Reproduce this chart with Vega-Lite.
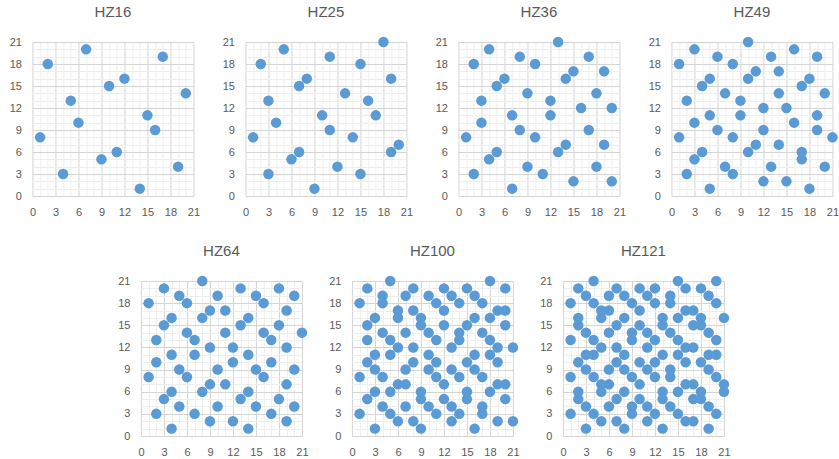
{
  "$schema": "https://vega.github.io/schema/vega-lite/v6.json",
  "background": "white",
  "padding": {"left": 9, "top": 5, "right": 5, "bottom": 0},
  "config": {
    "view": {"stroke": null},
    "font": "Liberation Sans",
    "title": {"fontSize": 15, "fontWeight": "normal", "color": "#595959", "offset": 16, "font": "Liberation Sans"},
    "axis": {
      "domain": false, "ticks": false, "labelColor": "#595959", "labelFontSize": 11,
      "labelFont": "Liberation Sans", "labelFlush": false, "labelOverlap": false,
      "gridColor": {"condition": {"test": "datum.value % 3 === 0", "value": "#d4d4d4"}, "value": "#eeeeee"},
      "gridWidth": 1,
      "labelExpr": "datum.value % 3 === 0 ? datum.label : ''"
    },
    "axisX": {"labelPadding": 10},
    "axisY": {"labelPadding": 11},
    "circle": {"size": 110, "color": "#5B9BD5", "opacity": 1}
  },
  "datasets": {
    "HZ16": [{"x":7,"y":20},{"x":2,"y":18},{"x":17,"y":19},{"x":12,"y":16},{"x":10,"y":15},{"x":20,"y":14},{"x":5,"y":13},{"x":15,"y":11},{"x":6,"y":10},{"x":16,"y":9},{"x":1,"y":8},{"x":11,"y":6},{"x":9,"y":5},{"x":19,"y":4},{"x":4,"y":3},{"x":14,"y":1}],
    "HZ25": [{"x":5,"y":20},{"x":2,"y":18},{"x":18,"y":21},{"x":11,"y":19},{"x":15,"y":18},{"x":8,"y":16},{"x":19,"y":16},{"x":7,"y":15},{"x":13,"y":14},{"x":3,"y":13},{"x":16,"y":13},{"x":10,"y":11},{"x":17,"y":11},{"x":4,"y":10},{"x":11,"y":9},{"x":1,"y":8},{"x":14,"y":8},{"x":20,"y":7},{"x":7,"y":6},{"x":19,"y":6},{"x":6,"y":5},{"x":12,"y":4},{"x":3,"y":3},{"x":15,"y":3},{"x":9,"y":1}],
    "HZ36": [{"x":13,"y":21},{"x":4,"y":20},{"x":8,"y":19},{"x":17,"y":19},{"x":2,"y":18},{"x":10,"y":18},{"x":15,"y":17},{"x":19,"y":17},{"x":6,"y":16},{"x":14,"y":16},{"x":5,"y":15},{"x":9,"y":14},{"x":18,"y":14},{"x":3,"y":13},{"x":12,"y":13},{"x":16,"y":12},{"x":20,"y":12},{"x":7,"y":11},{"x":12,"y":11},{"x":3,"y":10},{"x":8,"y":9},{"x":17,"y":9},{"x":1,"y":8},{"x":10,"y":8},{"x":14,"y":7},{"x":19,"y":7},{"x":5,"y":6},{"x":13,"y":6},{"x":4,"y":5},{"x":9,"y":4},{"x":18,"y":4},{"x":2,"y":3},{"x":11,"y":3},{"x":15,"y":2},{"x":20,"y":2},{"x":7,"y":1}],
    "HZ49": [{"x":10,"y":21},{"x":3,"y":20},{"x":16,"y":20},{"x":6,"y":19},{"x":13,"y":19},{"x":19,"y":19},{"x":1,"y":18},{"x":8,"y":18},{"x":11,"y":17},{"x":14,"y":17},{"x":5,"y":16},{"x":10,"y":16},{"x":18,"y":16},{"x":4,"y":15},{"x":17,"y":15},{"x":7,"y":14},{"x":14,"y":14},{"x":20,"y":14},{"x":9,"y":13},{"x":2,"y":13},{"x":12,"y":12},{"x":15,"y":12},{"x":5,"y":11},{"x":9,"y":11},{"x":19,"y":11},{"x":3,"y":10},{"x":16,"y":10},{"x":6,"y":9},{"x":12,"y":9},{"x":19,"y":9},{"x":1,"y":8},{"x":8,"y":8},{"x":21,"y":8},{"x":11,"y":7},{"x":14,"y":7},{"x":4,"y":6},{"x":10,"y":6},{"x":17,"y":6},{"x":3,"y":5},{"x":17,"y":5},{"x":7,"y":4},{"x":13,"y":4},{"x":20,"y":4},{"x":2,"y":3},{"x":8,"y":3},{"x":12,"y":2},{"x":15,"y":2},{"x":5,"y":1},{"x":18,"y":1}],
    "HZ64": [{"x":8,"y":21},{"x":3,"y":20},{"x":13,"y":20},{"x":18,"y":20},{"x":5,"y":19},{"x":10,"y":19},{"x":15,"y":19},{"x":20,"y":19},{"x":1,"y":18},{"x":6,"y":18},{"x":16,"y":18},{"x":9,"y":17},{"x":11,"y":17},{"x":19,"y":17},{"x":4,"y":16},{"x":8,"y":16},{"x":14,"y":16},{"x":3,"y":15},{"x":13,"y":15},{"x":18,"y":15},{"x":6,"y":14},{"x":11,"y":14},{"x":16,"y":14},{"x":21,"y":14},{"x":2,"y":13},{"x":7,"y":13},{"x":17,"y":13},{"x":9,"y":12},{"x":12,"y":12},{"x":19,"y":12},{"x":4,"y":11},{"x":7,"y":11},{"x":14,"y":11},{"x":2,"y":10},{"x":12,"y":10},{"x":17,"y":10},{"x":5,"y":9},{"x":10,"y":9},{"x":15,"y":9},{"x":20,"y":9},{"x":1,"y":8},{"x":6,"y":8},{"x":16,"y":8},{"x":9,"y":7},{"x":11,"y":7},{"x":19,"y":7},{"x":4,"y":6},{"x":8,"y":6},{"x":14,"y":6},{"x":3,"y":5},{"x":13,"y":5},{"x":18,"y":5},{"x":5,"y":4},{"x":10,"y":4},{"x":15,"y":4},{"x":20,"y":4},{"x":2,"y":3},{"x":7,"y":3},{"x":17,"y":3},{"x":9,"y":2},{"x":12,"y":2},{"x":19,"y":2},{"x":4,"y":1},{"x":14,"y":1}],
    "HZ100": [{"x":5,"y":21},{"x":18,"y":21},
      {"x":2,"y":20},{"x":8,"y":20},{"x":12,"y":20},{"x":15,"y":20},{"x":20,"y":20},
      {"x":4,"y":19},{"x":7,"y":19},{"x":10,"y":19},{"x":13,"y":19},{"x":16,"y":19},
      {"x":1,"y":18},{"x":4,"y":18},{"x":11,"y":18},{"x":14,"y":18},{"x":17,"y":18},
      {"x":6,"y":17},{"x":8,"y":17},{"x":12,"y":17},{"x":19,"y":17},{"x":20,"y":17},
      {"x":3,"y":16},{"x":6,"y":16},{"x":9,"y":16},{"x":16,"y":16},{"x":18,"y":16},
      {"x":2,"y":15},{"x":9,"y":15},{"x":12,"y":15},{"x":15,"y":15},{"x":20,"y":15},
      {"x":4,"y":14},{"x":7,"y":14},{"x":10,"y":14},{"x":14,"y":14},{"x":17,"y":14},
      {"x":2,"y":13},{"x":5,"y":13},{"x":11,"y":13},{"x":14,"y":13},{"x":18,"y":13},
      {"x":6,"y":12},{"x":8,"y":12},{"x":13,"y":12},{"x":19,"y":12},{"x":21,"y":12},
      {"x":3,"y":11},{"x":5,"y":11},{"x":10,"y":11},{"x":16,"y":11},{"x":18,"y":11},
      {"x":2,"y":10},{"x":8,"y":10},{"x":11,"y":10},{"x":15,"y":10},{"x":19,"y":10},
      {"x":3,"y":9},{"x":7,"y":9},{"x":10,"y":9},{"x":13,"y":9},{"x":16,"y":9},
      {"x":1,"y":8},{"x":4,"y":8},{"x":11,"y":8},{"x":14,"y":8},{"x":17,"y":8},
      {"x":6,"y":7},{"x":7,"y":7},{"x":12,"y":7},{"x":19,"y":7},{"x":20,"y":7},
      {"x":3,"y":6},{"x":5,"y":6},{"x":9,"y":6},{"x":15,"y":6},{"x":18,"y":6},
      {"x":2,"y":5},{"x":9,"y":5},{"x":12,"y":5},{"x":15,"y":5},{"x":20,"y":5},
      {"x":4,"y":4},{"x":7,"y":4},{"x":10,"y":4},{"x":13,"y":4},{"x":17,"y":4},
      {"x":1,"y":3},{"x":5,"y":3},{"x":11,"y":3},{"x":14,"y":3},{"x":17,"y":3},
      {"x":6,"y":2},{"x":8,"y":2},{"x":13,"y":2},{"x":19,"y":2},{"x":21,"y":2},
      {"x":3,"y":1},{"x":9,"y":1},{"x":16,"y":1}],
    "HZ121": [{"x":4,"y":21},{"x":15,"y":21},{"x":20,"y":21},
      {"x":2,"y":20},{"x":7,"y":20},{"x":10,"y":20},{"x":12,"y":20},{"x":16,"y":20},{"x":18,"y":20},
      {"x":3,"y":19},{"x":6,"y":19},{"x":8,"y":19},{"x":11,"y":19},{"x":14,"y":19},{"x":19,"y":19},
      {"x":1,"y":18},{"x":4,"y":18},{"x":9,"y":18},{"x":12,"y":18},{"x":14,"y":18},{"x":20,"y":18},
      {"x":5,"y":17},{"x":6,"y":17},{"x":10,"y":17},{"x":16,"y":17},{"x":17,"y":17},
      {"x":2,"y":16},{"x":5,"y":16},{"x":8,"y":16},{"x":13,"y":16},{"x":15,"y":16},{"x":18,"y":16},{"x":21,"y":16},
      {"x":2,"y":15},{"x":7,"y":15},{"x":10,"y":15},{"x":13,"y":15},{"x":17,"y":15},{"x":18,"y":15},
      {"x":3,"y":14},{"x":6,"y":14},{"x":9,"y":14},{"x":11,"y":14},{"x":14,"y":14},{"x":19,"y":14},
      {"x":1,"y":13},{"x":4,"y":13},{"x":9,"y":13},{"x":12,"y":13},{"x":15,"y":13},{"x":20,"y":13},
      {"x":5,"y":12},{"x":7,"y":12},{"x":11,"y":12},{"x":16,"y":12},{"x":17,"y":12},
      {"x":3,"y":11},{"x":4,"y":11},{"x":8,"y":11},{"x":13,"y":11},{"x":15,"y":11},{"x":19,"y":11},{"x":20,"y":11},
      {"x":2,"y":10},{"x":7,"y":10},{"x":10,"y":10},{"x":12,"y":10},{"x":16,"y":10},{"x":18,"y":10},
      {"x":3,"y":9},{"x":6,"y":9},{"x":8,"y":9},{"x":11,"y":9},{"x":14,"y":9},{"x":19,"y":9},
      {"x":1,"y":8},{"x":4,"y":8},{"x":9,"y":8},{"x":12,"y":8},{"x":14,"y":8},{"x":20,"y":8},
      {"x":5,"y":7},{"x":6,"y":7},{"x":10,"y":7},{"x":16,"y":7},{"x":17,"y":7},{"x":21,"y":7},
      {"x":2,"y":6},{"x":5,"y":6},{"x":8,"y":6},{"x":13,"y":6},{"x":15,"y":6},{"x":18,"y":6},{"x":21,"y":6},
      {"x":2,"y":5},{"x":7,"y":5},{"x":10,"y":5},{"x":13,"y":5},{"x":17,"y":5},{"x":18,"y":5},
      {"x":3,"y":4},{"x":6,"y":4},{"x":9,"y":4},{"x":11,"y":4},{"x":14,"y":4},{"x":19,"y":4},
      {"x":1,"y":3},{"x":4,"y":3},{"x":9,"y":3},{"x":12,"y":3},{"x":15,"y":3},{"x":20,"y":3},
      {"x":5,"y":2},{"x":7,"y":2},{"x":11,"y":2},{"x":16,"y":2},{"x":17,"y":2},
      {"x":3,"y":1},{"x":8,"y":1},{"x":13,"y":1},{"x":19,"y":1}]
  },
  "vconcat": [
    {
      "hconcat": [
        {"title": "HZ16", "width": 161, "height": 154, "data": {"name": "HZ16"}, "mark": {"type": "circle"},
         "encoding": {"x": {"field": "x", "type": "quantitative", "scale": {"domain": [0, 21], "nice": false}, "axis": {"title": null, "values": [0,1,2,3,4,5,6,7,8,9,10,11,12,13,14,15,16,17,18,19,20,21]}},
                      "y": {"field": "y", "type": "quantitative", "scale": {"domain": [0, 21], "nice": false}, "axis": {"title": null, "values": [0,1,2,3,4,5,6,7,8,9,10,11,12,13,14,15,16,17,18,19,20,21]}}}},
        {"title": "HZ25", "width": 161, "height": 154, "data": {"name": "HZ25"}, "mark": {"type": "circle"},
         "encoding": {"x": {"field": "x", "type": "quantitative", "scale": {"domain": [0, 21], "nice": false}, "axis": {"title": null, "values": [0,1,2,3,4,5,6,7,8,9,10,11,12,13,14,15,16,17,18,19,20,21]}},
                      "y": {"field": "y", "type": "quantitative", "scale": {"domain": [0, 21], "nice": false}, "axis": {"title": null, "values": [0,1,2,3,4,5,6,7,8,9,10,11,12,13,14,15,16,17,18,19,20,21]}}}},
        {"title": "HZ36", "width": 161, "height": 154, "data": {"name": "HZ36"}, "mark": {"type": "circle"},
         "encoding": {"x": {"field": "x", "type": "quantitative", "scale": {"domain": [0, 21], "nice": false}, "axis": {"title": null, "values": [0,1,2,3,4,5,6,7,8,9,10,11,12,13,14,15,16,17,18,19,20,21]}},
                      "y": {"field": "y", "type": "quantitative", "scale": {"domain": [0, 21], "nice": false}, "axis": {"title": null, "values": [0,1,2,3,4,5,6,7,8,9,10,11,12,13,14,15,16,17,18,19,20,21]}}}},
        {"title": "HZ49", "width": 161, "height": 154, "data": {"name": "HZ49"}, "mark": {"type": "circle"},
         "encoding": {"x": {"field": "x", "type": "quantitative", "scale": {"domain": [0, 21], "nice": false}, "axis": {"title": null, "values": [0,1,2,3,4,5,6,7,8,9,10,11,12,13,14,15,16,17,18,19,20,21]}},
                      "y": {"field": "y", "type": "quantitative", "scale": {"domain": [0, 21], "nice": false}, "axis": {"title": null, "values": [0,1,2,3,4,5,6,7,8,9,10,11,12,13,14,15,16,17,18,19,20,21]}}}}
      ],
      "spacing": 52,
      "bounds": "flush"
    },
    {
      "hconcat": [
        {"title": "HZ64", "width": 161, "height": 155, "data": {"name": "HZ64"}, "mark": {"type": "circle"},
         "encoding": {"x": {"field": "x", "type": "quantitative", "scale": {"domain": [0, 21], "nice": false}, "axis": {"title": null, "values": [0,1,2,3,4,5,6,7,8,9,10,11,12,13,14,15,16,17,18,19,20,21]}},
                      "y": {"field": "y", "type": "quantitative", "scale": {"domain": [0, 21], "nice": false}, "axis": {"title": null, "values": [0,1,2,3,4,5,6,7,8,9,10,11,12,13,14,15,16,17,18,19,20,21]}}}},
        {"title": "HZ100", "width": 161, "height": 155, "data": {"name": "HZ100"}, "mark": {"type": "circle"},
         "encoding": {"x": {"field": "x", "type": "quantitative", "scale": {"domain": [0, 21], "nice": false}, "axis": {"title": null, "values": [0,1,2,3,4,5,6,7,8,9,10,11,12,13,14,15,16,17,18,19,20,21]}},
                      "y": {"field": "y", "type": "quantitative", "scale": {"domain": [0, 21], "nice": false}, "axis": {"title": null, "values": [0,1,2,3,4,5,6,7,8,9,10,11,12,13,14,15,16,17,18,19,20,21]}}}},
        {"title": "HZ121", "width": 161, "height": 155, "data": {"name": "HZ121"}, "mark": {"type": "circle"},
         "encoding": {"x": {"field": "x", "type": "quantitative", "scale": {"domain": [0, 21], "nice": false}, "axis": {"title": null, "values": [0,1,2,3,4,5,6,7,8,9,10,11,12,13,14,15,16,17,18,19,20,21]}},
                      "y": {"field": "y", "type": "quantitative", "scale": {"domain": [0, 21], "nice": false}, "axis": {"title": null, "values": [0,1,2,3,4,5,6,7,8,9,10,11,12,13,14,15,16,17,18,19,20,21]}}}}
      ],
      "spacing": 50,
      "bounds": "flush"
    }
  ],
  "spacing": 27,
  "center": true
}
